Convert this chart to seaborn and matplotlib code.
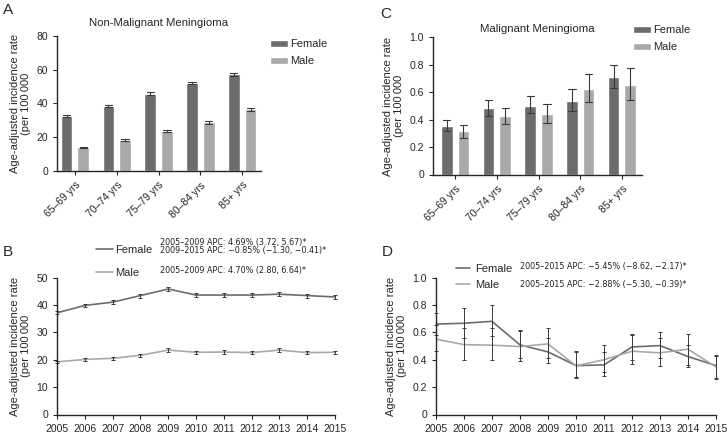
import numpy as np
import pandas as pd
import matplotlib
matplotlib.use("Agg")
import matplotlib.pyplot as plt
import seaborn as sns

# ---- data ----
age_groups = ["65–69 yrs", "70–74 yrs", "75–79 yrs", "80–84 yrs", "85+ yrs"]
sexes = ["Female", "Male"]

# A: non-malignant meningioma by age
nm_female = [32.5, 38.5, 45.9, 52.3, 57.2]
nm_female_lo = [32.1, 37.9, 45.2, 51.6, 56.4]
nm_female_hi = [32.9, 39.1, 46.6, 53.0, 58.0]
nm_male = [14.0, 18.3, 23.7, 28.8, 36.6]
nm_male_lo = [13.6, 17.8, 23.1, 28.1, 35.7]
nm_male_hi = [14.4, 18.8, 24.3, 29.5, 37.5]

# C: malignant meningioma by age
m_female = [0.354, 0.484, 0.503, 0.540, 0.710]
m_female_lo = [0.315, 0.425, 0.447, 0.467, 0.632]
m_female_hi = [0.400, 0.545, 0.575, 0.624, 0.798]
m_male = [0.315, 0.430, 0.440, 0.621, 0.650]
m_male_lo = [0.270, 0.366, 0.376, 0.528, 0.543]
m_male_hi = [0.360, 0.486, 0.514, 0.730, 0.774]

years = [2005, 2006, 2007, 2008, 2009, 2010, 2011, 2012, 2013, 2014, 2015]

# B: non-malignant trend
nmt_female = [37.1, 39.8, 41.0, 43.4, 45.8, 43.6, 43.6, 43.6, 43.9, 43.4, 42.9]
nmt_female_lo = [36.5, 39.1, 40.3, 42.7, 45.1, 42.9, 42.9, 42.9, 43.2, 42.7, 42.2]
nmt_female_hi = [37.7, 40.5, 41.7, 44.1, 46.5, 44.3, 44.3, 44.3, 44.6, 44.1, 43.6]
nmt_male = [19.2, 20.1, 20.5, 21.6, 23.5, 22.7, 22.8, 22.6, 23.5, 22.6, 22.7]
nmt_male_lo = [18.7, 19.5, 19.9, 21.0, 22.9, 22.1, 22.2, 22.0, 22.9, 22.0, 22.1]
nmt_male_hi = [19.7, 20.7, 21.1, 22.2, 24.1, 23.3, 23.4, 23.2, 24.1, 23.2, 23.3]

# D: malignant trend
mt_female = [0.660, 0.666, 0.680, 0.508, 0.457, 0.357, 0.362, 0.493, 0.503, 0.423, 0.357]
mt_female_lo = [0.580, 0.560, 0.574, 0.410, 0.374, 0.277, 0.280, 0.400, 0.410, 0.345, 0.270]
mt_female_hi = [0.740, 0.780, 0.800, 0.615, 0.560, 0.457, 0.457, 0.590, 0.600, 0.510, 0.435]
mt_male = [0.550, 0.510, 0.506, 0.496, 0.515, 0.355, 0.400, 0.462, 0.450, 0.477, 0.347]
mt_male_lo = [0.460, 0.400, 0.400, 0.390, 0.410, 0.270, 0.309, 0.367, 0.357, 0.360, 0.260]
mt_male_hi = [0.650, 0.635, 0.628, 0.610, 0.632, 0.460, 0.506, 0.580, 0.560, 0.584, 0.430]

female_col = "#6c6c6c"
male_col = "#a9a9a9"
err_col = "#3a3a3a"
palette = {"Female": female_col, "Male": male_col}


def long_table(xvals, xname, groups):
    # three rows per point (lo, value, hi): median = value, min/max = CI
    rows = []
    for sex, (val, lo, hi) in groups.items():
        for x, v, l, h in zip(xvals, val, lo, hi):
            for y in (l, v, h):
                rows.append({xname: x, "sex": sex, "rate": y})
    return pd.DataFrame(rows)


def ci_range(v):
    return (v.min(), v.max())


sns.set_style("ticks")
plt.rcParams["font.family"] = ["Liberation Sans", "DejaVu Sans"]
plt.rcParams["axes.linewidth"] = 1.0
plt.rcParams["xtick.major.size"] = 3
plt.rcParams["ytick.major.size"] = 3
plt.rcParams["xtick.labelsize"] = 7.5
plt.rcParams["ytick.labelsize"] = 7.5

W, H = 728, 432
fig = plt.figure(figsize=(W / 100, H / 100), dpi=100)


def px_axes(x0, y0, x1, y1):
    return fig.add_axes([x0 / W, 1 - y1 / H, (x1 - x0) / W, (y1 - y0) / H])


axA = px_axes(57, 36, 261, 171)
axC = px_axes(433, 37.5, 642, 174.5)
axB = px_axes(57, 277.5, 335, 414.5)
axD = px_axes(436, 277.5, 716, 414.5)

ylab = "Age-adjusted incidence rate\n(per 100\u2009000"
leg_kw = dict(frameon=False, title=None, fontsize=8, borderpad=0, borderaxespad=0)


def fmt_frac(v, pos):
    return "0" if abs(v) < 1e-9 else f"{v:.1f}"


def bar_panel(ax, table, title, ymax, step, xl, tpad, frac=False):
    sns.barplot(data=table, x="age", y="rate", hue="sex", palette=palette,
                estimator="median", errorbar=ci_range, width=0.8, gap=0.3,
                capsize=0.35, err_kws={"color": err_col, "linewidth": 0.8},
                saturation=1, ax=ax)
    ax.set_ylim(0, ymax)
    ax.set_yticks(np.arange(0, ymax + step / 2, step))
    if frac:
        ax.yaxis.set_major_formatter(plt.FuncFormatter(fmt_frac))
    ax.set_xlim(*xl)
    ax.set_xlabel("")
    ax.set_ylabel(ylab, fontsize=8, linespacing=1.1)
    ax.set_title(title, fontsize=8.2, pad=tpad)
    plt.setp(ax.get_xticklabels(), rotation=45, ha="right", rotation_mode="anchor")
    sns.despine(ax=ax)


tabA = long_table(age_groups, "age", {
    "Female": (nm_female, nm_female_lo, nm_female_hi),
    "Male": (nm_male, nm_male_lo, nm_male_hi)})
bar_panel(axA, tabA, "Non-Malignant Meningioma", 80, 20, (-0.43, 4.45), 7)
sns.move_legend(axA, "upper left", bbox_to_anchor=(1.044, 0.975),
                handlelength=1.6, handleheight=0.6, labelspacing=0.62,
                handletextpad=0.2, **leg_kw)

tabC = long_table(age_groups, "age", {
    "Female": (m_female, m_female_lo, m_female_hi),
    "Male": (m_male, m_male_lo, m_male_hi)})
bar_panel(axC, tabC, "Malignant Meningioma", 1.0, 0.2, (-0.53, 4.48), 4, frac=True)
sns.move_legend(axC, "upper left", bbox_to_anchor=(0.957, 1.088),
                handlelength=1.6, handleheight=0.6, labelspacing=0.62,
                handletextpad=0.2, **leg_kw)


def line_panel(ax, table, ymax, step, frac=False):
    sns.lineplot(data=table, x="year", y="rate", hue="sex", palette=palette,
                 estimator="median", errorbar=ci_range, err_style="bars",
                 err_kws={"ecolor": err_col, "capsize": 1.6, "elinewidth": 0.7,
                          "capthick": 0.7, "clip_on": False},
                 linewidth=1.2, ax=ax)
    ax.set_xlim(2005, 2015)
    ax.set_xticks(years)
    ax.set_ylim(0, ymax)
    ax.set_yticks(np.arange(0, ymax + step / 2, step))
    if frac:
        ax.yaxis.set_major_formatter(plt.FuncFormatter(fmt_frac))
    ax.set_xlabel("")
    ax.set_ylabel(ylab, fontsize=8, linespacing=1.1)
    sns.despine(ax=ax)


tabB = long_table(years, "year", {
    "Female": (nmt_female, nmt_female_lo, nmt_female_hi),
    "Male": (nmt_male, nmt_male_lo, nmt_male_hi)})
line_panel(axB, tabB, 50, 10)
sns.move_legend(axB, "lower left", bbox_to_anchor=(0.14, 1.0),
                handlelength=1.5, labelspacing=1.15, handletextpad=0.2, **leg_kw)

tabD = long_table(years, "year", {
    "Female": (mt_female, mt_female_lo, mt_female_hi),
    "Male": (mt_male, mt_male_lo, mt_male_hi)})
line_panel(axD, tabD, 1.0, 0.2, frac=True)
sns.move_legend(axD, "lower left", bbox_to_anchor=(0.071, 0.912),
                handlelength=1.3, labelspacing=0.53, handletextpad=0.45, **leg_kw)

# APC annotations
apc_kw = dict(fontsize=5.8, va="center", ha="left", color="#222222",
              family=["DejaVu Sans"])
fig.text(160 / W, 1 - 242 / H, "2005–2009 APC: 4.69% (3.72, 5.67)*", **apc_kw)
fig.text(160 / W, 1 - 250 / H, "2009–2015 APC: −0.85% (−1.30, −0.41)*", **apc_kw)
fig.text(160 / W, 1 - 271 / H, "2005–2009 APC: 4.70% (2.80, 6.64)*", **apc_kw)
fig.text(520 / W, 1 - 267 / H, "2005–2015 APC: −5.45% (−8.62, −2.17)*", **apc_kw)
fig.text(520 / W, 1 - 284 / H, "2005–2015 APC: −2.88% (−5.30, −0.39)*", **apc_kw)

# panel letters
for letter, x, y in [("A", 8, 10), ("C", 386, 14), ("B", 8, 252), ("D", 387, 252)]:
    fig.text(x / W, 1 - y / H, letter, fontsize=11, va="center", ha="center")

fig.savefig("out.png", dpi=100)
